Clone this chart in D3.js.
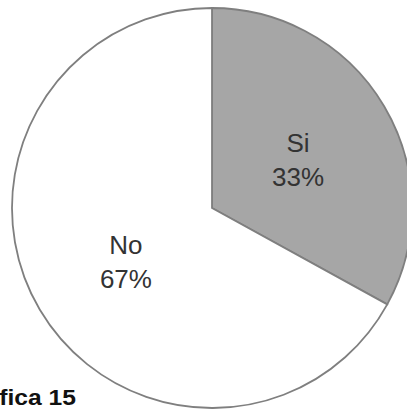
<!DOCTYPE html>
<html>
<head>
<meta charset="utf-8">
<script src="https://cdn.jsdelivr.net/npm/d3@7"></script>
<style>
  html, body { margin: 0; padding: 0; background: #fff; }
  svg { display: block; }
</style>
</head>
<body>
<svg id="chart" width="407" height="411"></svg>
<script>
// Answers to the survey question
const categories = ["Si", "No"];
const values = [33, 67];
const labels = ["33%", "67%"];
const fills = ["#a6a6a6", "#ffffff"];
const caption = "Gráfica 15";

const svg = d3.select("#chart");
const cx = 212, cy = 208, R = 200;

const pie = d3.pie().sort(null).value(d => d.value);
const arcs = pie(categories.map((c, i) => ({ cat: c, value: values[i], label: labels[i], fill: fills[i] })));
const arc = d3.arc().innerRadius(0).outerRadius(R);

const g = svg.append("g").attr("transform", `translate(${cx},${cy})`);

g.selectAll("path")
  .data(arcs)
  .join("path")
  .attr("d", arc)
  .attr("fill", d => d.data.fill)
  .attr("stroke", "#7f7f7f")
  .attr("stroke-width", 1.8);

const lbl = g.selectAll("text.lbl")
  .data(arcs)
  .join("text")
  .attr("class", "lbl")
  .attr("transform", d => { const [x, y] = arc.centroid(d); return `translate(${x},${y})`; })
  .attr("text-anchor", "middle")
  .attr("font-family", "Liberation Sans, Arial, sans-serif")
  .attr("font-size", 26)
  .attr("fill", "#333");

lbl.append("tspan").attr("x", 0).attr("y", -5).text(d => d.data.cat);
lbl.append("tspan").attr("x", 0).attr("y", 29).text(d => d.data.label);

// Figure caption, running off the left edge of the page
svg.append("text")
  .attr("transform", "translate(76,405) scale(1.12,1)")
  .attr("text-anchor", "end")
  .attr("font-family", "Liberation Sans, Arial, sans-serif")
  .attr("font-weight", "bold")
  .attr("font-size", 22)
  .attr("fill", "#111")
  .text(caption);
</script>
</body>
</html>
